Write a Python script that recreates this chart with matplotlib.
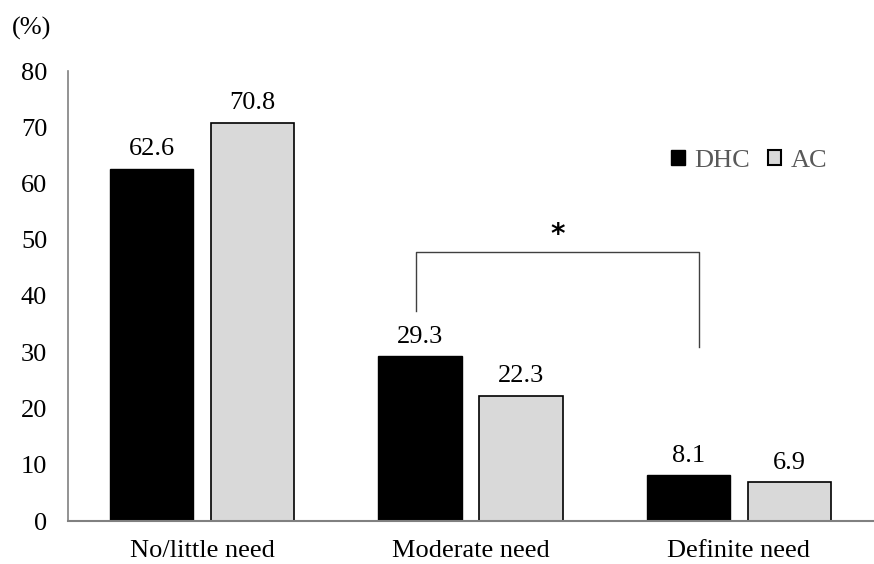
import matplotlib
matplotlib.use("Agg")
import matplotlib.pyplot as plt
import numpy as np
from matplotlib.patches import Patch

categories = ["No/little need", "Moderate need", "Definite need"]
dhc = [62.6, 29.3, 8.1]
ac = [70.8, 22.3, 6.9]
yticks = [0, 10, 20, 30, 40, 50, 60, 70, 80]

plt.rcParams['font.family'] = ['Liberation Serif', 'DejaVu Serif']
FS = 19

fig = plt.figure(figsize=(8.74, 5.64), dpi=100)
ax = fig.add_axes([68/874, 1-521/564, 805/874, (521-71)/564])

x = np.arange(len(categories))
w = 0.31
off = 0.188
ax.bar(x - off, dhc, w, color='black', edgecolor='black', linewidth=1, label='DHC')
ax.bar(x + off, ac, w, color='#d9d9d9', edgecolor='black', linewidth=1.2, label='AC')

for xi, v in zip(x - off, dhc):
    ax.text(xi, v + 2.4, f"{v}", ha='center', va='baseline', fontsize=FS)
for xi, v in zip(x + off, ac):
    ax.text(xi, v + 2.4, f"{v}", ha='center', va='baseline', fontsize=FS)

ax.set_xlim(-0.5, 2.5)
ax.set_ylim(0, 80)
ax.set_yticks(yticks)
ax.set_yticklabels([str(t) for t in yticks], fontsize=FS)
ax.set_xticks(x)
ax.set_xticklabels(categories, fontsize=FS)
ax.tick_params(axis='both', length=0)
ax.tick_params(axis='y', pad=15)
ax.tick_params(axis='x', pad=14)

for s in ['top', 'right']:
    ax.spines[s].set_visible(False)
ax.spines['left'].set_color('#808080')
ax.spines['left'].set_linewidth(1.2)
ax.spines['bottom'].set_color('#808080')
ax.spines['bottom'].set_linewidth(1.5)

# significance bracket
bx0, bx1 = 0.797, 1.852
ax.plot([bx0, bx0, bx1, bx1], [37.3, 47.8, 47.8, 30.9], color='#404040', linewidth=1)
ax.text((bx0 + bx1) / 2, 48.3, "*", ha='center', va='bottom', fontsize=20, fontweight='bold',
        family=['DejaVu Sans'])

fig.text(12/874, 1-28/564, "(%)", fontsize=FS, va='center', ha='left')

leg = ax.legend(handles=[Patch(facecolor='black', edgecolor='black', label='DHC'),
                         Patch(facecolor='#d9d9d9', edgecolor='black', linewidth=1.5, label='AC')],
                loc='center left', bbox_to_anchor=(0.72, 0.80), ncol=2, frameon=False,
                fontsize=FS, handlelength=0.5, handleheight=0.5, handletextpad=0.35,
                columnspacing=0.7)
for t in leg.get_texts():
    t.set_color('#595959')

fig.savefig("out.png", dpi=100)
